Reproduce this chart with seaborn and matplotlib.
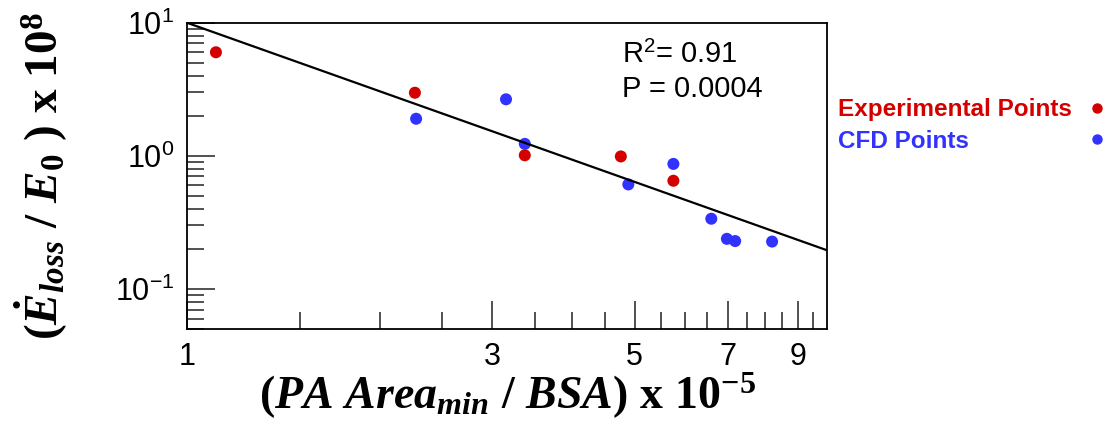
import matplotlib
matplotlib.use("Agg")
import matplotlib.pyplot as plt
from matplotlib.lines import Line2D
from matplotlib.ticker import FixedLocator, NullFormatter, LogLocator
import numpy as np
import pandas as pd
import seaborn as sns

# data
exp_x = [1.11, 2.27, 3.37, 4.76, 5.75]
exp_y = [6.0, 2.98, 1.01, 0.99, 0.65]
cfd_x = [2.28, 3.15, 3.37, 4.89, 5.75, 6.59, 6.97, 7.18, 8.20]
cfd_y = [1.90, 2.66, 1.23, 0.61, 0.87, 0.337, 0.238, 0.229, 0.227]
fit_x = [1.0, 10.0]
fit_y = [10.0, 0.195]
groups = ["Experimental Points", "CFD Points"]
colors = ["#d40000", "#3232ff"]

df = pd.DataFrame({
    "area": exp_x + cfd_x,
    "eloss": exp_y + cfd_y,
    "group": [groups[0]] * len(exp_x) + [groups[1]] * len(cfd_x),
})

sns.set_style("ticks")
plt.rcParams["font.family"] = ["Liberation Sans", "DejaVu Sans"]
plt.rcParams["mathtext.fontset"] = "custom"
plt.rcParams["mathtext.rm"] = "Liberation Serif:bold"
plt.rcParams["mathtext.it"] = "Liberation Serif:italic:bold"
plt.rcParams["mathtext.bf"] = "Liberation Serif:bold"
plt.rcParams["axes.unicode_minus"] = False
plt.rcParams["text.color"] = "black"
plt.rcParams["axes.labelcolor"] = "black"

fig = plt.figure(figsize=(11.06, 4.29), dpi=100)
ax = fig.add_axes([0.169, 0.233, 0.579, 0.714])

sns.scatterplot(data=df, x="area", y="eloss", hue="group", palette=colors,
                s=75, linewidth=0, legend=False, ax=ax, zorder=2)
ax.plot(fit_x, fit_y, color="black", lw=1.6, zorder=3)

ax.set_xscale("log")
ax.set_yscale("log")
ax.set_xlim(1, 10)
ax.set_ylim(0.05, 10)

# x ticks: labels at 1,3,5,7,9, minor every 0.5
ax.xaxis.set_major_locator(FixedLocator([1, 3, 5, 7, 9]))
ax.set_xticklabels(["1", "3", "5", "7", "9"])
ax.xaxis.set_minor_locator(FixedLocator([1.5, 2, 2.5, 3.5, 4, 4.5, 5.5, 6, 6.5,
                                         7.5, 8, 8.5, 9.5]))
ax.xaxis.set_minor_formatter(NullFormatter())
ax.yaxis.set_major_locator(LogLocator(base=10, numticks=10))
ax.yaxis.set_minor_locator(LogLocator(base=10, subs=np.arange(2, 10), numticks=10))
ax.yaxis.set_minor_formatter(NullFormatter())

ax.tick_params(which="both", direction="in", top=False, right=False,
               labelsize=22, color="#333333", labelcolor="black", width=1.2)
ax.tick_params(which="major", length=20, pad=9)
ax.tick_params(which="minor", length=12)
for sp in ax.spines.values():
    sp.set_linewidth(1.3)
    sp.set_color("black")

ax.set_xlabel(r"$(\mathit{PA\ Area}_{\mathit{min}}\ /\ \mathit{BSA})\ \mathrm{x\ 10}^{-5}$",
              fontsize=33)
ax.xaxis.set_label_coords(0.5, -0.137)
ax.set_ylabel(r"$(\dot{\mathit{E}}_{\mathit{loss}}\ /\ \mathit{E}_{\mathit{0}}\ )\ \mathrm{x\ 10}^{8}$",
              fontsize=34)
ax.yaxis.set_label_coords(-0.183, 0.5)

ax.text(0.68, 0.94, r"R$^{\mathdefault{2}}$= 0.91", transform=ax.transAxes,
        fontsize=21, va="top")
ax.text(0.68, 0.828, "P = 0.0004", transform=ax.transAxes,
        fontsize=21, va="top")

# legend: coloured text on the left, dots lined up on the right
font = {"family": "Liberation Sans", "weight": "bold", "size": 17.5}
blank = [Line2D([], [], ls="none", marker="o", markersize=0) for _ in groups]
leg_txt = ax.legend(blank, groups, labelcolor=colors, prop=font, frameon=False,
                    handlelength=0, handletextpad=0, labelspacing=0.36, borderpad=0,
                    loc="upper left", bbox_to_anchor=(1.017, 0.754), borderaxespad=0)
ax.add_artist(leg_txt)
dots = [Line2D([], [], ls="none", marker="o", markersize=6.5, color=c) for c in colors]
ax.legend(dots, ["", ""], prop=font, frameon=False, handlelength=1, borderpad=0,
          handletextpad=0, labelspacing=0.36, loc="upper left",
          bbox_to_anchor=(1.4016, 0.754), borderaxespad=0)

fig.savefig("out.png", dpi=100)
